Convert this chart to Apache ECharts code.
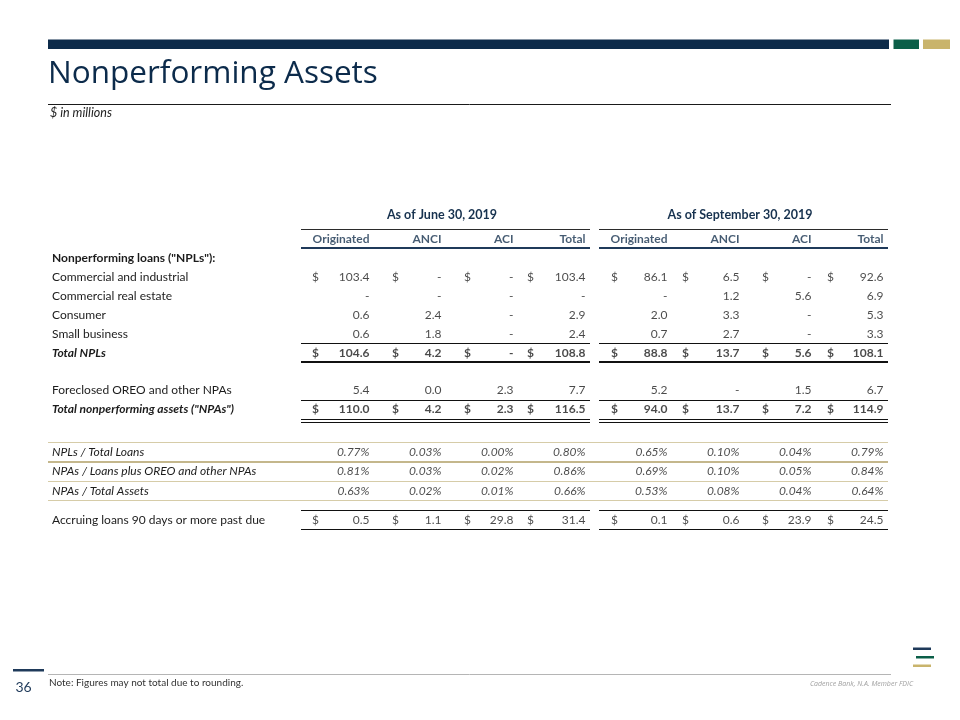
<!DOCTYPE html>
<html><head><meta charset="utf-8">
<script src="https://cdn.jsdelivr.net/npm/echarts@6/dist/echarts.min.js"></script>
<style>html,body{margin:0;padding:0;background:#fff}#c{width:960px;height:720px}</style>
</head><body><div id="c"></div>
<script>
// ---------- DATA ----------
const periods = ['As of June 30, 2019', 'As of September 30, 2019'];
const columns = ['Originated', 'ANCI', 'ACI', 'Total'];
const rowLabels = {
  colhdr: '', nplHdr: 'Nonperforming loans ("NPLs"):', ci: 'Commercial and industrial',
  cre: 'Commercial real estate', cons: 'Consumer', sb: 'Small business', totNpl: 'Total NPLs',
  gap: '', oreo: 'Foreclosed OREO and other NPAs', totNpa: 'Total nonperforming assets ("NPAs")',
  nplPct: 'NPLs / Total Loans', npaLoansPct: 'NPAs / Loans plus OREO and other NPAs',
  npaAssetsPct: 'NPAs / Total Assets', accr: 'Accruing loans 90 days or more past due'
};
// null = "-"
const junCI = [103.4, null, null, 103.4];
const junCRE = [null, null, null, null];
const junCons = [0.6, 2.4, null, 2.9];
const junSB = [0.6, 1.8, null, 2.4];
const junNPL = [104.6, 4.2, null, 108.8];
const junOREO = [5.4, 0.0, 2.3, 7.7];
const junNPA = [110.0, 4.2, 2.3, 116.5];
const junNplPct = [0.77, 0.03, 0.00, 0.80];
const junNpaLoansPct = [0.81, 0.03, 0.02, 0.86];
const junNpaAssetsPct = [0.63, 0.02, 0.01, 0.66];
const junAccr = [0.5, 1.1, 29.8, 31.4];

const sepCI = [86.1, 6.5, null, 92.6];
const sepCRE = [null, 1.2, 5.6, 6.9];
const sepCons = [2.0, 3.3, null, 5.3];
const sepSB = [0.7, 2.7, null, 3.3];
const sepNPL = [88.8, 13.7, 5.6, 108.1];
const sepOREO = [5.2, null, 1.5, 6.7];
const sepNPA = [94.0, 13.7, 7.2, 114.9];
const sepNplPct = [0.65, 0.10, 0.04, 0.79];
const sepNpaLoansPct = [0.69, 0.10, 0.05, 0.84];
const sepNpaAssetsPct = [0.53, 0.08, 0.04, 0.64];
const sepAccr = [0.1, 0.6, 23.9, 24.5];

const periodData = [
  {ci: junCI, cre: junCRE, cons: junCons, sb: junSB, totNpl: junNPL, oreo: junOREO, totNpa: junNPA,
   nplPct: junNplPct, npaLoansPct: junNpaLoansPct, npaAssetsPct: junNpaAssetsPct, accr: junAccr},
  {ci: sepCI, cre: sepCRE, cons: sepCons, sb: sepSB, totNpl: sepNPL, oreo: sepOREO, totNpa: sepNPA,
   nplPct: sepNplPct, npaLoansPct: sepNpaLoansPct, npaAssetsPct: sepNpaAssetsPct, accr: sepAccr}
];
const dollarRows = ['ci', 'totNpl', 'totNpa', 'accr'];
const pctRows = ['nplPct', 'npaLoansPct', 'npaAssetsPct'];

// ---------- LAYOUT / STYLE ----------
const FONT = 'Lato';
const INK = '#1c1c1c', NAVY = '#17324f';
const colLeft = [298, 596], colW = 288, band = 72;
const dollarOff = [[14, 22, 22, 13], [15, 14, 22, 15]];
const sections = [
  ['colhdr', 'nplHdr', 'ci', 'cre', 'cons', 'sb', 'totNpl', 'gap', 'oreo', 'totNpa'],
  ['nplPct', 'npaLoansPct', 'npaAssetsPct'],
  ['accr']
];
const secTop = [229.5, 442.25, 510];
const secStep = [18.95, 19.5, 19.5];
const labelStyle = {nplHdr: 'b', totNpl: 'bi', totNpa: 'bi', nplPct: 'i', npaLoansPct: 'i', npaAssetsPct: 'i'};
const boldRows = ['totNpl', 'totNpa'];

function fmt(key, v) {
  if (v === null) return '-';
  if (pctRows.includes(key)) return v.toFixed(2) + '%';
  return v.toFixed(1);
}

const grids = [], xAxes = [], yAxes = [], series = [];
periods.forEach((pname, g) => {
  sections.forEach((keys, s) => {
    const gi = grids.length;
    grids.push({left: colLeft[g], width: colW, top: secTop[s], height: secStep[s] * keys.length});
    xAxes.push({
      type: 'category', gridIndex: gi, data: columns, position: 'top',
      show: s === 0, name: s === 0 ? pname : '', nameLocation: 'middle', nameGap: 8,
      nameTextStyle: {fontFamily: FONT, fontSize: 12.5, fontWeight: 'bold', color: NAVY},
      axisLine: {show: false}, axisTick: {show: false}, axisLabel: {show: false}, splitLine: {show: false}
    });
    yAxes.push({
      type: 'category', gridIndex: gi, data: keys, inverse: true,
      axisLine: {show: false}, axisTick: {show: false}, splitLine: {show: false},
      axisLabel: {
        show: g === 0, interval: 0, margin: colLeft[0] - 52, align: 'left',
        formatter: (v) => rowLabels[v] ? '{' + (labelStyle[v] || 'n') + '|' + rowLabels[v] + '}' : '',
        rich: {
          n: {fontFamily: FONT, fontSize: 12, color: INK},
          b: {fontFamily: FONT, fontSize: 12, color: INK, fontWeight: 'bold'},
          i: {fontFamily: FONT, fontSize: 12, color: INK, fontStyle: 'italic'},
          bi: {fontFamily: FONT, fontSize: 12, color: INK, fontWeight: 'bold', fontStyle: 'italic'}
        }
      }
    });
    const data = [];
    keys.forEach((key, i) => {
      if (key === 'colhdr') {
        columns.forEach((c, j) => data.push({value: [j, i], txt: c,
          label: {align: 'right', offset: [band / 2 - 0.5, 0], fontWeight: 'bold', color: NAVY}}));
        return;
      }
      const vals = periodData[g][key];
      if (!vals) return;
      const bold = boldRows.includes(key), ital = pctRows.includes(key);
      vals.forEach((v, j) => {
        data.push({value: [j, i], txt: fmt(key, v),
          label: {align: 'right', offset: [band / 2 - 0.5, 0], fontWeight: bold ? 'bold' : 'normal',
                  fontStyle: ital ? 'italic' : 'normal'}});
        if (dollarRows.includes(key)) {
          data.push({value: [j, i], txt: '$',
            label: {align: 'left', offset: [dollarOff[g][j] - band / 2, 0], fontWeight: bold ? 'bold' : 'normal'}});
        }
      });
    });
    series.push({
      type: 'scatter', xAxisIndex: gi, yAxisIndex: gi, symbolSize: 1, silent: true,
      itemStyle: {color: 'rgba(0,0,0,0)'},
      label: {show: true, position: 'inside', formatter: (p) => p.data.txt,
              fontFamily: FONT, fontSize: 12, color: INK, verticalAlign: 'middle'},
      emphasis: {disabled: true},
      data: data
    });
  });
});

// table rules derived from section layout
const graphics = [];
function hline(x1, x2, y, w, color) {
  graphics.push({type: 'line', silent: true, shape: {x1: x1, y1: y, x2: x2, y2: y},
                 style: {stroke: color, lineWidth: w}});
}
function edge(s, k) { return secTop[s] + secStep[s] * k; }
function crisp(y, w) { return w % 2 === 1 ? Math.round(y - 0.5) + 0.5 : Math.round(y); }
function blockRule(y, w, color) {
  colLeft.forEach(l => hline(l + 3, l + colW + 4, crisp(y, w), w, color));
}
blockRule(edge(0, 0), 1, '#2b2b2b');
blockRule(edge(0, 1), 2, '#1f3a5a');
blockRule(edge(0, 6), 1, '#111');
blockRule(edge(0, 7), 2, '#111');
blockRule(edge(0, 9), 1, '#111');
blockRule(edge(0, 10), 1, '#111');
blockRule(edge(0, 10) + 3, 1, '#111');
[[0, 1, '#d6cca8'], [1, 2, '#c4b78c'], [2, 1, '#d6cca8'], [3, 1, '#d6cca8']].forEach(([k, w, c]) =>
  hline(48, 888, crisp(edge(1, k), w), w, c));
blockRule(edge(2, 0), 1, '#111');
blockRule(edge(2, 1), 1, '#111');

// slide decorations
graphics.push(
  {type: 'rect', silent: true, shape: {x: 48, y: 39.5, width: 841, height: 9.5}, style: {fill: '#0d2b4a'}},
  {type: 'rect', silent: true, shape: {x: 893.5, y: 39.5, width: 25.5, height: 9.5}, style: {fill: '#0b5e48'}},
  {type: 'rect', silent: true, shape: {x: 923, y: 39.5, width: 27, height: 9.5}, style: {fill: '#c9b46c'}},
  {type: 'text', silent: true, x: 48, y: 74, style: {text: 'Nonperforming Assets', fill: '#0c2b4b',
    font: '31.5px "Open Sans"', verticalAlign: 'middle'}},
  {type: 'line', silent: true, shape: {x1: 48, y1: 104.5, x2: 891, y2: 104.5}, style: {stroke: '#1a1a1a', lineWidth: 1}},
  {type: 'text', silent: true, x: 50, y: 113, style: {text: '$ in millions', fill: '#222',
    font: 'italic 12.5px Lato', verticalAlign: 'middle'}},
  {type: 'rect', silent: true, shape: {x: 13, y: 669, width: 31, height: 2.5}, style: {fill: '#1f3a5a'}},
  {type: 'line', silent: true, shape: {x1: 48, y1: 674.5, x2: 891, y2: 674.5}, style: {stroke: '#b5b5b5', lineWidth: 1}},
  {type: 'text', silent: true, x: 23.5, y: 687, style: {text: '36', fill: '#1f3a5a', font: '14px Lato',
    align: 'center', verticalAlign: 'middle'}},
  {type: 'text', silent: true, x: 49, y: 683, style: {text: 'Note: Figures may not total due to rounding.',
    fill: '#333', font: '10px Lato', verticalAlign: 'middle'}},
  {type: 'text', silent: true, x: 913, y: 683.5, style: {text: 'Cadence Bank, N.A. Member FDIC',
    fill: '#a0a0a0', font: 'italic 7px "Open Sans"', align: 'right', verticalAlign: 'middle'}},
  {type: 'rect', silent: true, shape: {x: 913, y: 647.5, width: 18, height: 2.5}, style: {fill: '#1f3a5a'}},
  {type: 'rect', silent: true, shape: {x: 916, y: 656, width: 18, height: 2.5}, style: {fill: '#0b5e48'}},
  {type: 'rect', silent: true, shape: {x: 913, y: 664.5, width: 18, height: 2.5}, style: {fill: '#c9b46c'}}
);

const chart = echarts.init(document.getElementById('c'));
chart.setOption({
  animation: false,
  backgroundColor: '#fff',
  grid: grids, xAxis: xAxes, yAxis: yAxes, series: series,
  graphic: graphics
});
</script></body></html>
